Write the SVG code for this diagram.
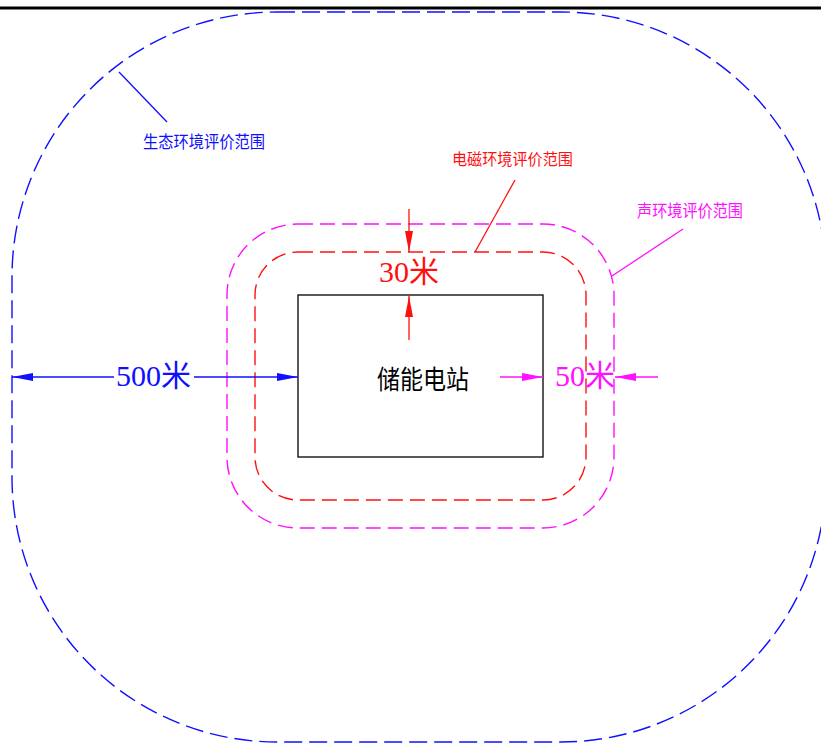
<svg xmlns="http://www.w3.org/2000/svg" width="821" height="745" viewBox="0 0 821 745">
<style>
.bd{fill:none;stroke-width:1.4}
.blue{stroke:#1010ff}
.red{stroke:#ff1010}
.mag{stroke:#ff10ff}
.lbl{font-family:"Noto Sans CJK SC","Noto Sans",sans-serif}
.dim{font-family:"Liberation Serif","Noto Sans CJK SC",serif;font-size:30px}
</style>
<defs>
<marker id="ab" viewBox="0 0 21 8" refX="21" refY="4" markerWidth="21" markerHeight="8" markerUnits="userSpaceOnUse" orient="auto"><path d="M0,0 L21,4 L0,8 Z" fill="#1010ff"/></marker>
<marker id="ar" viewBox="0 0 21 8" refX="21" refY="4" markerWidth="21" markerHeight="8" markerUnits="userSpaceOnUse" orient="auto"><path d="M0,0 L21,4 L0,8 Z" fill="#ff1010"/></marker>
<marker id="am" viewBox="0 0 21 8" refX="21" refY="4" markerWidth="21" markerHeight="8" markerUnits="userSpaceOnUse" orient="auto"><path d="M0,0 L21,4 L0,8 Z" fill="#ff10ff"/></marker>
</defs>
<rect width="821" height="745" fill="#fff"/>
<line x1="0" y1="8" x2="821" y2="8" stroke="#000" stroke-width="3"/>
<g id="eco-range">
<rect class="bd blue" x="12" y="12" width="814" height="730" rx="265" ry="265" stroke-dasharray="18 7"/>
<text class="lbl" x="143" y="148" font-size="17" fill="#1010ff" textLength="122" lengthAdjust="spacingAndGlyphs">生态环境评价范围</text>
</g>
<g id="noise-range">
<rect class="bd mag" x="227" y="224" width="387" height="304" rx="71" ry="71" stroke-dasharray="15 7"/>
<text class="lbl" x="637" y="217" font-size="17" fill="#ff10ff" textLength="106" lengthAdjust="spacingAndGlyphs">声环境评价范围</text>
</g>
<g id="em-range">
<rect class="bd red" x="255" y="252" width="331" height="248" rx="43" ry="43" stroke-dasharray="15 7"/>
<text class="lbl" x="452" y="165" font-size="16" fill="#ff1010" textLength="121" lengthAdjust="spacingAndGlyphs">电磁环境评价范围</text>
</g>
<g id="station">
<rect x="298" y="295" width="245" height="162" fill="none" stroke="#000" stroke-width="1.3"/>
<text class="lbl" x="377" y="389" font-size="26" fill="#000" textLength="92" lengthAdjust="spacingAndGlyphs">储能电站</text>
</g>
<g id="connectors" stroke-width="1.3" fill="none">
<line class="blue" x1="119" y1="72" x2="167" y2="122"/>
<line class="red" x1="515" y1="180" x2="475" y2="252"/>
<line class="mag" x1="612" y1="276" x2="683" y2="229"/>
<line class="blue" x1="114" y1="377" x2="12" y2="377" marker-end="url(#ab)"/>
<line class="blue" x1="194" y1="377" x2="298" y2="377" marker-end="url(#ab)"/>
<line class="red" x1="409" y1="209" x2="409" y2="252" marker-end="url(#ar)"/>
<line class="red" x1="409" y1="340" x2="409" y2="296" marker-end="url(#ar)"/>
<line class="mag" x1="500" y1="377" x2="543" y2="377" marker-end="url(#am)"/>
<line class="mag" x1="658" y1="377" x2="615" y2="377" marker-end="url(#am)"/>
</g>
<g id="dim-labels">
<text class="dim" x="116" y="386" fill="#1010ff">500米</text>
<text class="dim" x="379" y="282" fill="#ff1010">30米</text>
<text class="dim" x="555" y="386" fill="#ff10ff">50米</text>
</g>
</svg>
